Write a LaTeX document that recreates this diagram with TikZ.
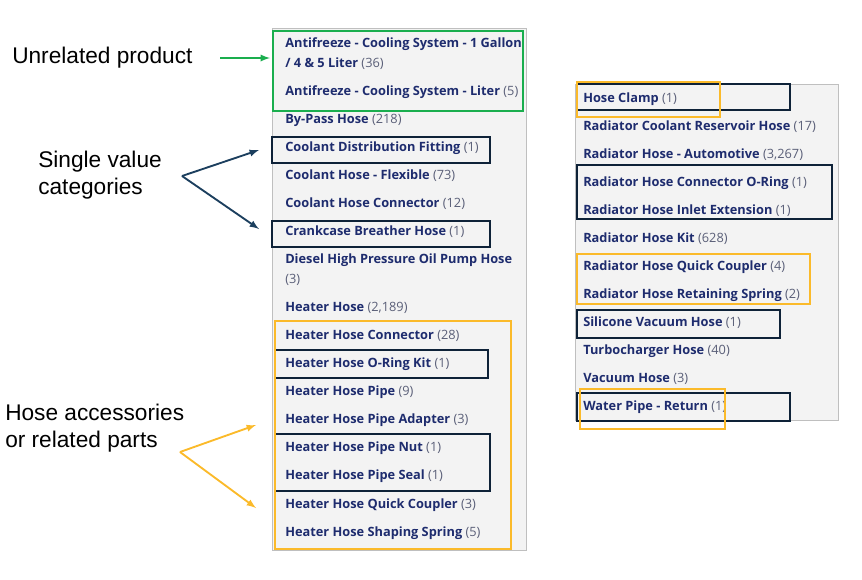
\documentclass[tikz,border=0pt]{standalone}
\usepackage{fontspec}
\setmainfont{Open Sans}
\newfontfamily\lab{Liberation Sans}
\begin{document}
\begin{tikzpicture}[x=0.75pt,y=-0.75pt,
 it/.style={anchor=west,inner sep=0pt,font=\fontsize{9.6}{11}\selectfont\bfseries,text=navy},
 lb/.style={anchor=west,inner sep=0pt,font=\lab\fontsize{17}{20}\selectfont,align=left},
 bk/.style={draw=boxk,line width=1.6pt},
 yb/.style={draw=boxy,line width=1.6pt},
 gb/.style={draw=boxg,line width=1.6pt},
 ar/.style={line width=1.4pt,-latex}]
\definecolor{navy}{HTML}{1E2C6E}
\definecolor{cnt}{HTML}{5A5F78}
\definecolor{boxk}{HTML}{0E2238}
\definecolor{boxy}{HTML}{FBBA2A}
\definecolor{boxg}{HTML}{1AAE4E}
\definecolor{panel}{HTML}{F3F3F3}
\definecolor{arn}{HTML}{1C3F5E}
\useasboundingbox (0,0) rectangle (862,579);
\fill[panel,draw=gray!50] (272,28) rectangle (526,550);
\fill[panel,draw=gray!50] (575,84) rectangle (838,420);
\def\c#1{{\mdseries\color{cnt}(#1)}}
\foreach \y/\t in {44/{Antifreeze - Cooling System - 1 Gallon},64/{/ 4 \& 5 Liter \c{36}},92/{Antifreeze - Cooling System - Liter \c{5}},120/{By-Pass Hose \c{218}},148/{Coolant Distribution Fitting \c{1}},176/{Coolant Hose - Flexible \c{73}},204/{Coolant Hose Connector \c{12}},232/{Crankcase Breather Hose \c{1}},260/{Diesel High Pressure Oil Pump Hose},280/{\c{3}},308/{Heater Hose \c{2,189}},336/{Heater Hose Connector \c{28}},364/{Heater Hose O-Ring Kit \c{1}},392/{Heater Hose Pipe \c{9}},420/{Heater Hose Pipe Adapter \c{3}},448/{Heater Hose Pipe Nut \c{1}},476/{Heater Hose Pipe Seal \c{1}},505/{Heater Hose Quick Coupler \c{3}},533/{Heater Hose Shaping Spring \c{5}}}
  \node[it] (L\y) at (285,\y) {\t};
\foreach \y/\t in {99/{Hose Clamp \c{1}},127/{Radiator Coolant Reservoir Hose \c{17}},155/{Radiator Hose - Automotive \c{3,267}},183/{Radiator Hose Connector O-Ring \c{1}},211/{Radiator Hose Inlet Extension \c{1}},239/{Radiator Hose Kit \c{628}},267/{Radiator Hose Quick Coupler \c{4}},295/{Radiator Hose Retaining Spring \c{2}},323/{Silicone Vacuum Hose \c{1}},351/{Turbocharger Hose \c{40}},379/{Vacuum Hose \c{3}},407/{Water Pipe - Return \c{1}}}
  \node[it] (R\y) at (583,\y) {\t};
% boxes
\draw[gb] (273,31) rectangle (523,111);
\draw[bk] (272,137) rectangle (490,163);
\draw[bk] (272,221) rectangle (490,247);
\draw[bk] (275,350) rectangle (488,378);
\draw[bk] (275,434) rectangle (490,491);
\draw[yb] (275,321) rectangle (511,549);
\draw[bk] (577,84) rectangle (790,110);
\draw[yb] (577,82) rectangle (720,117);
\draw[bk] (577,165) rectangle (832,219);
\draw[yb] (577,254) rectangle (810,304);
\draw[bk] (577,310) rectangle (780,338);
\draw[bk] (577,393) rectangle (790,421);
\draw[yb] (580,389) rectangle (725,429);
% labels
\node[lb] (u) at (12,58) {Unrelated product};
\node[lb] (s) at (38,175) {Single value\\categories};
\node[lb] (h) at (5,428) {Hose accessories\\or related parts};
\coordinate (ga) at (220,58); \coordinate (gt) at (270,58);
\draw[ar,boxg] (ga) -- (gt);
\coordinate (sa) at (182,176); \coordinate (s1) at (259,150); \coordinate (s2) at (259,229);
\draw[ar,arn] (sa) -- (s1); \draw[ar,arn] (sa) -- (s2);
\coordinate (ha) at (180,452); \coordinate (h1) at (256,425); \coordinate (h2) at (256,508);
\draw[ar,boxy] (ha) -- (h1); \draw[ar,boxy] (ha) -- (h2);
\end{tikzpicture}
\end{document}
